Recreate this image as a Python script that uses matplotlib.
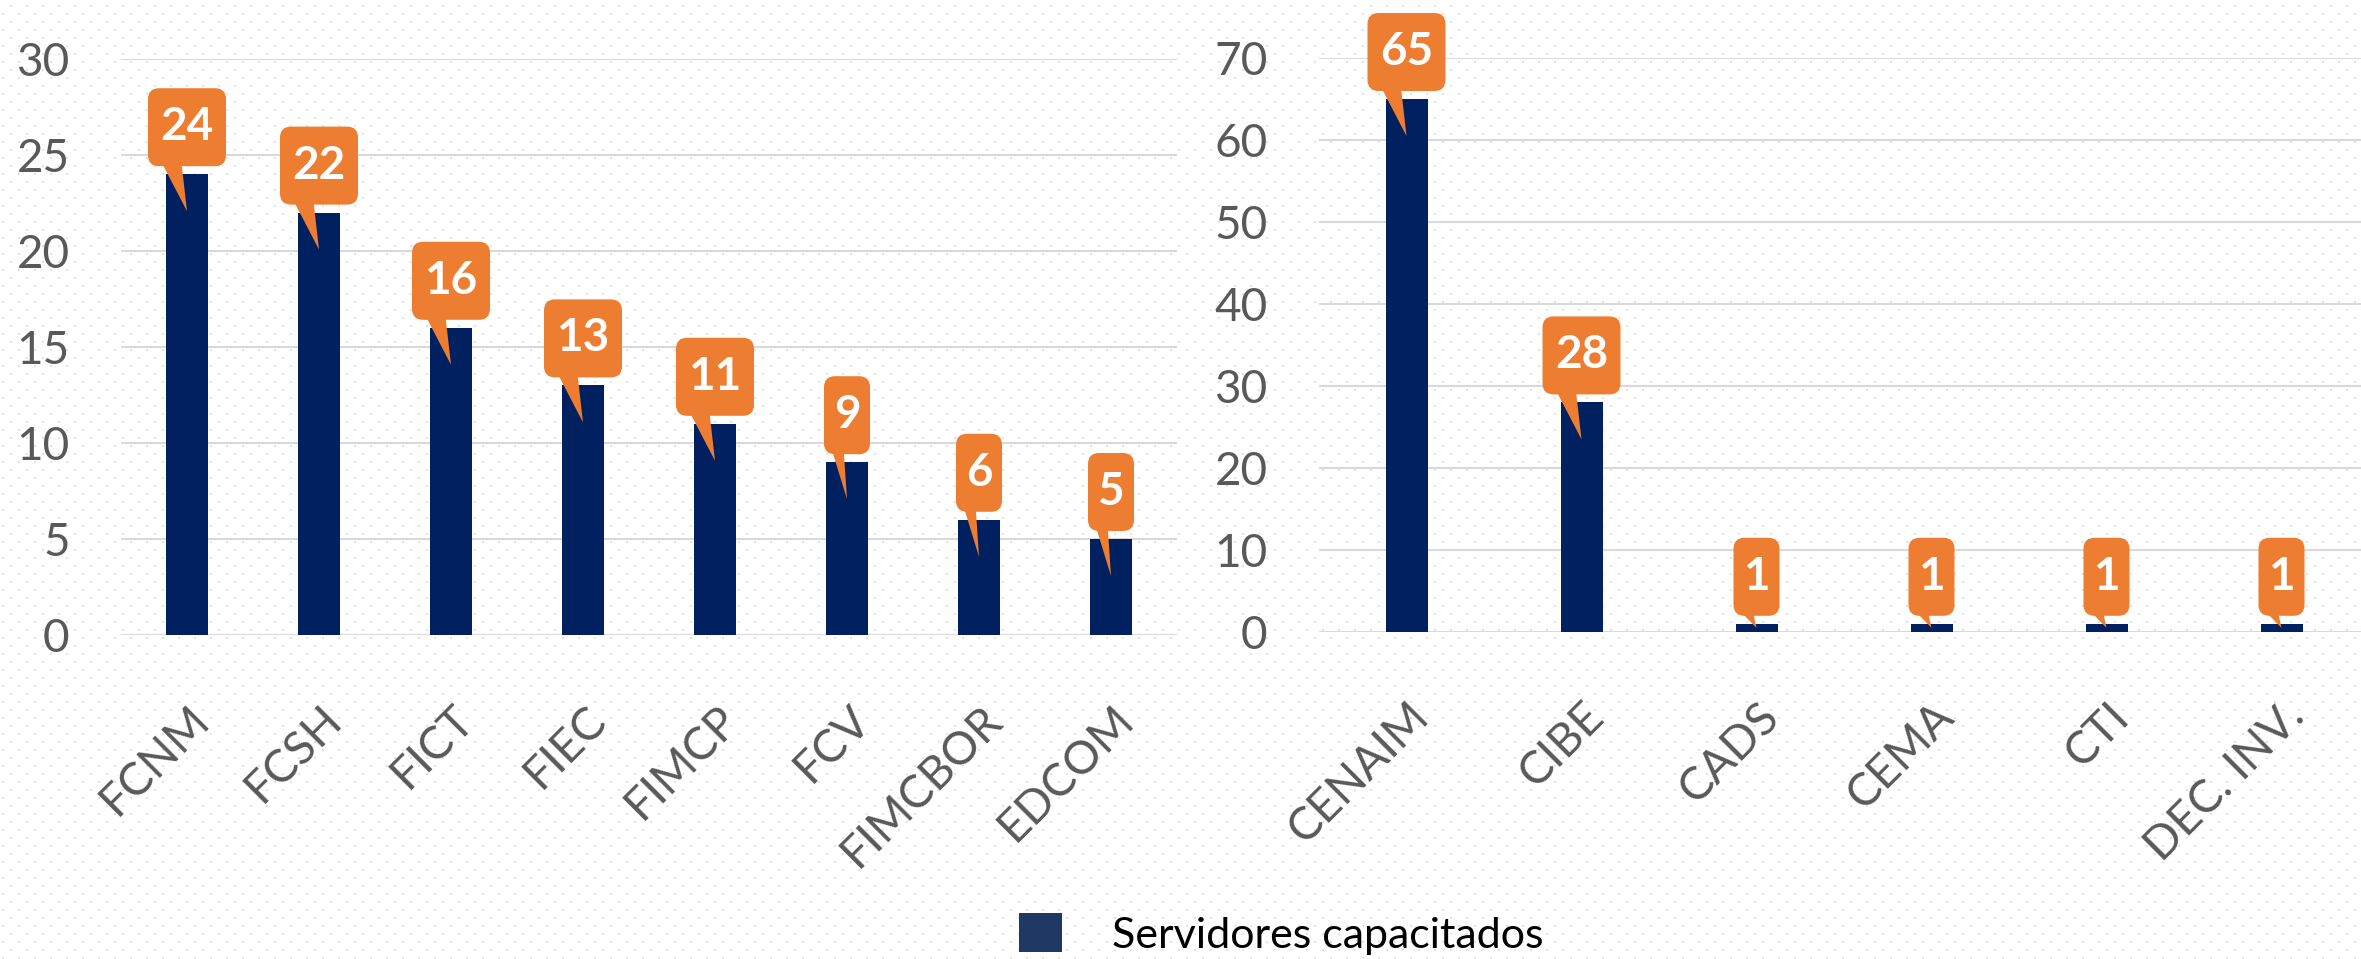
import numpy as np
import matplotlib
matplotlib.use('Agg')
import matplotlib.pyplot as plt
from matplotlib.patches import FancyBboxPatch, Polygon, Patch
from matplotlib.transforms import IdentityTransform, ScaledTranslation

# data
fac_names = ['FCNM', 'FCSH', 'FICT', 'FIEC', 'FIMCP', 'FCV', 'FIMCBOR', 'EDCOM']
fac_values = [24, 22, 16, 13, 11, 9, 6, 5]
cen_names = ['CENAIM', 'CIBE', 'CADS', 'CEMA', 'CTI', 'DEC. INV.']
cen_values = [65, 28, 1, 1, 1, 1]
series_name = 'Servidores capacitados'

BAR = '#002060'
ORANGE = '#ED7D31'
GRID = '#D9D9D9'
TXT = '#595959'

plt.rcParams['font.family'] = ['Lato', 'DejaVu Sans']

W, H = 2361, 959
fig = plt.figure(figsize=(W / 100, H / 100), dpi=100)

# dotted background
bg = fig.add_axes([0, 0, 1, 1], zorder=-10)
bg.set_xlim(0, W)
bg.set_ylim(H, 0)
bg.axis('off')
rows = np.arange(6, H, 8)
px, py = [], []
for k, yy in enumerate(rows):
    xs = np.arange(10.7 if k % 2 == 0 else 2.7, W, 16)
    px.append(xs)
    py.append(np.full(xs.shape, yy))
bg.scatter(np.concatenate(px), np.concatenate(py), s=2.2, marker='s', c='#E3E3E3', linewidths=0)

ax1 = fig.add_axes([121 / W, 1 - 635 / H, 1056 / W, 576 / H])
ax2 = fig.add_axes([1319 / W, 1 - 632 / H, 1050 / W, 574 / H])


def style(ax, names, values, width, ymax, step):
    x = np.arange(len(names))
    ax.bar(x, values, width=width, color=BAR, zorder=3)
    ax.set_xlim(-0.5, len(names) - 0.5)
    ax.set_ylim(0, ymax)
    ax.set_yticks(np.arange(0, ymax + 1, step))
    ax.yaxis.grid(True, color=GRID, lw=1.5, zorder=0)
    ax.set_axisbelow(True)
    for s in ax.spines.values():
        s.set_visible(False)
    ax.tick_params(axis='both', length=0, labelsize=33, labelcolor=TXT)
    ax.tick_params(axis='y', pad=37)
    ax.tick_params(axis='x', pad=56)
    ax.set_xticks(x)
    ax.set_xticklabels(names)
    off = ScaledTranslation(16 / 100, 0, fig.dpi_scale_trans)
    for lab in ax.get_xticklabels():
        lab.set_rotation(45)
        lab.set_ha('right')
        lab.set_va('center')
        lab.set_rotation_mode('anchor')
        lab.set_transform(lab.get_transform() + off)
    ax.patch.set_alpha(0)


style(ax1, fac_names, fac_values, 0.318, 30, 5)
style(ax2, cen_names, cen_values, 0.24, 70, 10)


def callouts(ax, values):
    for i, v in enumerate(values):
        cx, top = ax.transData.transform((i, v))
        _, base = ax.transData.transform((i, 0))
        lbl = str(v)
        w = 46 + 32 * (len(lbl) - 1)
        h = 78
        x0 = cx - w / 2
        y0 = top + 8
        d = min(37, 0.5 * (top - base))
        tail = Polygon([(x0 + 0.18 * w, y0 + 3), (x0 + 0.43 * w, y0 + 3), (cx, top - d)],
                       closed=True, facecolor=ORANGE, edgecolor='none',
                       transform=IdentityTransform(), zorder=5)
        box = FancyBboxPatch((x0, y0), w, h, boxstyle='round,pad=0,rounding_size=11',
                             facecolor=ORANGE, edgecolor='none',
                             transform=IdentityTransform(), zorder=5)
        fig.add_artist(tail)
        fig.add_artist(box)
        fig.text(cx, y0 + h / 2, lbl, transform=IdentityTransform(), ha='center', va='center',
                 color='white', fontsize=33, fontweight='bold', zorder=6)


callouts(ax1, fac_values)
callouts(ax2, cen_values)

fig.legend(handles=[Patch(facecolor='#203864', edgecolor='none', label=series_name)],
           loc='center', bbox_to_anchor=(1281 / W, 1 - 934 / H), frameon=False,
           fontsize=31, handlelength=1.0, handleheight=1.0, handletextpad=1.15,
           labelcolor='black')

fig.savefig('out.png', dpi=100)
